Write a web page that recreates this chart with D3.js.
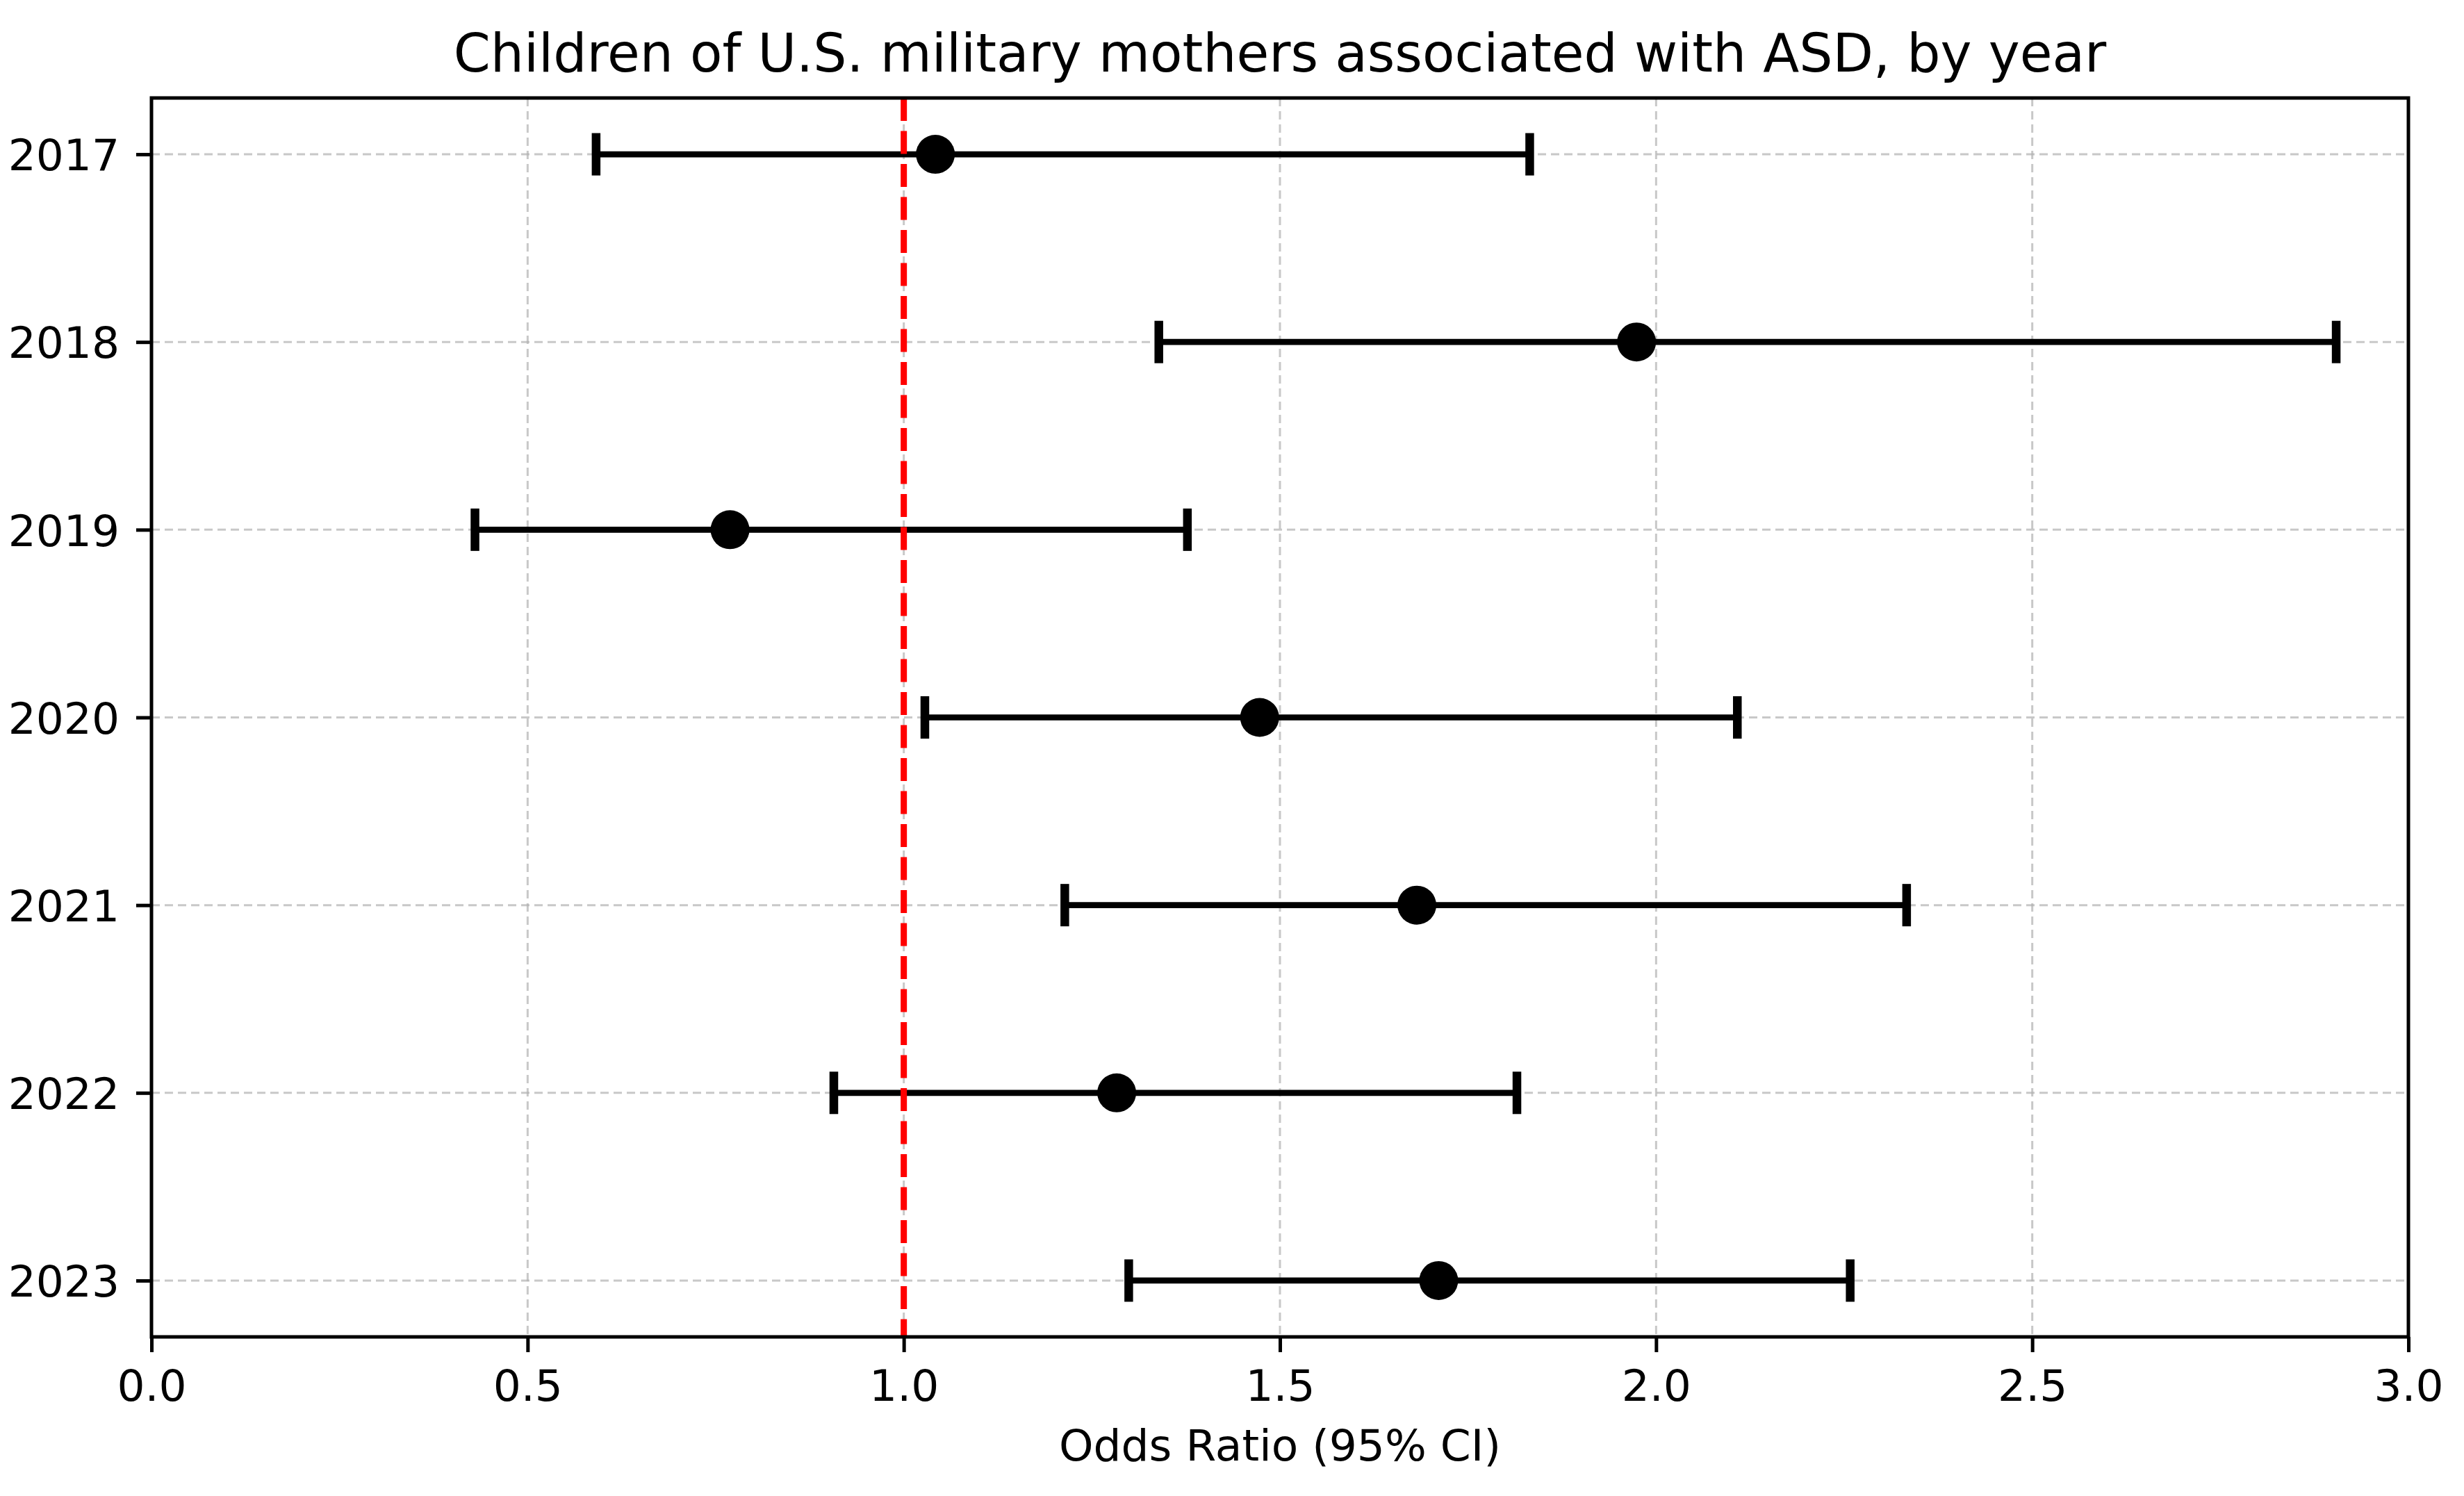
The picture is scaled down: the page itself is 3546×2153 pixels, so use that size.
<!DOCTYPE html>
<html>
<head>
<meta charset="utf-8">
<script src="https://cdn.jsdelivr.net/npm/d3@7"></script>
<style>
    html, body { margin: 0; padding: 0; background: #fff; }
    svg text { font-family: "DejaVu Sans", sans-serif; fill: #000; }
</style>
</head>
<body>
<div id="chart"></div>
<script>
    // values
    const years = ['2017', '2018', '2019', '2020', '2021', '2022', '2023'];
    const oddsRatio = [1.042, 1.974, 0.769, 1.473, 1.682, 1.283, 1.711];
    const ciLower = [0.591, 1.339, 0.430, 1.028, 1.214, 0.907, 1.299];
    const ciUpper = [1.832, 2.904, 1.377, 2.108, 2.333, 1.815, 2.258];
    const xTicks = [0.0, 0.5, 1.0, 1.5, 2.0, 2.5, 3.0];
    const refLine = 1.0;

    const title = 'Children of U.S. military mothers associated with ASD, by year';
    const xLabel = 'Odds Ratio (95% CI)';

    const width = 3546,
          height = 2153;

    const margin = {
        left: 218,
        right: width - 3466,
        top: 141,
        bottom: height - 1924
    };

    const rows = years.map((y, i) => ({
        year: y,
        or: oddsRatio[i],
        lo: ciLower[i],
        hi: ciUpper[i]
    }));

    let svg = d3.select('#chart')
        .append('svg')
        .attr('width', width)
        .attr('height', height)
        .attr('viewBox', `0 0 ${width} ${height}`);

    svg.append('rect')
        .attr('width', width)
        .attr('height', height)
        .attr('fill', '#fff');

    let x = d3.scaleLinear()
        .domain([0, 3])
        .range([margin.left, width - margin.right]);

    // categorical y like matplotlib: index positions with 5% margins, inverted
    let y = d3.scaleLinear()
        .domain([-0.3, years.length - 1 + 0.3])
        .range([margin.top, height - margin.bottom]);

    const tickSize = 22,
          tickPad = 24,
          fontSize = 63;

    // grid
    let grid = svg.append('g').classed('grid', true);

    grid.selectAll('.vgrid')
        .data(xTicks)
        .enter()
        .append('line')
        .attr('x1', (d) => x(d))
        .attr('x2', (d) => x(d))
        .attr('y1', margin.top)
        .attr('y2', height - margin.bottom)
        .classed('vgrid', true);

    grid.selectAll('.hgrid')
        .data(years)
        .enter()
        .append('line')
        .attr('x1', margin.left)
        .attr('x2', width - margin.right)
        .attr('y1', (d, i) => y(i))
        .attr('y2', (d, i) => y(i))
        .classed('hgrid', true);

    grid.selectAll('line')
        .attr('stroke', '#b0b0b0')
        .attr('stroke-opacity', 0.7)
        .attr('stroke-width', 3)
        .attr('stroke-dasharray', '12,7');

    // error bars
    let bars = svg.append('g').classed('errorbars', true);

    bars.selectAll('.ci')
        .data(rows)
        .enter()
        .append('line')
        .attr('x1', (d) => x(d.lo))
        .attr('x2', (d) => x(d.hi))
        .attr('y1', (d, i) => y(i))
        .attr('y2', (d, i) => y(i))
        .attr('stroke', '#000')
        .attr('stroke-width', 8.7)
        .classed('ci', true);

    ['lo', 'hi'].forEach((k) => {
        bars.selectAll(`.cap-${k}`)
            .data(rows)
            .enter()
            .append('line')
            .attr('x1', (d) => x(d[k]))
            .attr('x2', (d) => x(d[k]))
            .attr('y1', (d, i) => y(i) - 30.5)
            .attr('y2', (d, i) => y(i) + 30.5)
            .attr('stroke', '#000')
            .attr('stroke-width', 12.5)
            .classed(`cap-${k}`, true);
    });

    bars.selectAll('.dot')
        .data(rows)
        .enter()
        .append('circle')
        .attr('cx', (d) => x(d.or))
        .attr('cy', (d, i) => y(i))
        .attr('r', 28)
        .attr('fill', '#000')
        .classed('dot', true);

    // reference line at OR = 1
    svg.append('line')
        .attr('x1', x(refLine))
        .attr('x2', x(refLine))
        .attr('y1', margin.top)
        .attr('y2', height - margin.bottom)
        .attr('stroke', '#ff0000')
        .attr('stroke-width', 9)
        .attr('stroke-dasharray', '33,14.5');

    // axes
    let xAxis = svg.append('g')
        .attr('transform', `translate(0, ${height - margin.bottom})`)
        .call(d3.axisBottom(x)
            .tickValues(xTicks)
            .tickFormat(d3.format('.1f'))
            .tickSize(tickSize)
            .tickPadding(22));

    let yAxis = svg.append('g')
        .attr('transform', `translate(${margin.left}, 0)`)
        .call(d3.axisLeft(y)
            .tickValues(d3.range(years.length))
            .tickFormat((i) => years[i])
            .tickSize(tickSize)
            .tickPadding(tickPad));

    [xAxis, yAxis].forEach((ax) => {
        ax.select('.domain').remove();
        ax.selectAll('.tick line')
            .attr('stroke', '#000')
            .attr('stroke-width', 5);
        ax.selectAll('.tick text')
            .attr('font-size', fontSize)
            .attr('font-family', '"DejaVu Sans", sans-serif');
    });

    xAxis.selectAll('.tick text').attr('dy', '0.76em');
    yAxis.selectAll('.tick text').attr('dy', '0.36em');

    // frame
    svg.append('rect')
        .attr('x', margin.left)
        .attr('y', margin.top)
        .attr('width', width - margin.left - margin.right)
        .attr('height', height - margin.top - margin.bottom)
        .attr('fill', 'none')
        .attr('stroke', '#000')
        .attr('stroke-width', 5);

    // title and label
    svg.append('text')
        .attr('x', (margin.left + width - margin.right) / 2)
        .attr('y', 103)
        .attr('text-anchor', 'middle')
        .attr('font-size', 76)
        .text(title);

    svg.append('text')
        .attr('x', (margin.left + width - margin.right) / 2)
        .attr('y', 2102)
        .attr('text-anchor', 'middle')
        .attr('font-size', fontSize)
        .text(xLabel);
</script>
</body>
</html>
